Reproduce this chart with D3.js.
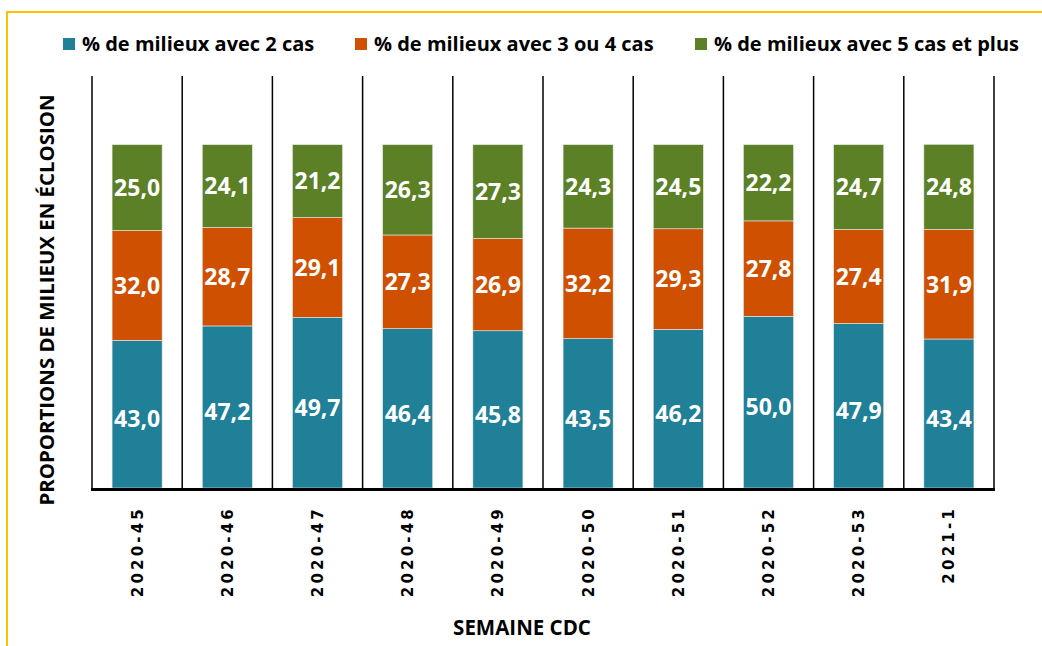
<!DOCTYPE html>
<html><head><meta charset="utf-8">
<script src="https://cdn.jsdelivr.net/npm/d3@7/dist/d3.min.js"></script>
<style>
html,body{margin:0;padding:0;background:#fff;}
svg{display:block;}
</style></head>
<body><svg id="c" width="1042" height="646"></svg>
<script>
const categories = ["2020-45","2020-46","2020-47","2020-48","2020-49","2020-50","2020-51","2020-52","2020-53","2021-1"];
const twoCases = [43.0,47.2,49.7,46.4,45.8,43.5,46.2,50.0,47.9,43.4];
const threeFourCases = [32.0,28.7,29.1,27.3,26.9,32.2,29.3,27.8,27.4,31.9];
const fivePlusCases = [25.0,24.1,21.2,26.3,27.3,24.3,24.5,22.2,24.7,24.8];
const seriesNames = ["% de milieux avec 2 cas","% de milieux avec 3 ou 4 cas","% de milieux avec 5 cas et plus"];
const seriesColors = ["#1F8098","#CF5000","#5B8025"];
const yAxisTitle = "PROPORTIONS DE MILIEUX EN ÉCLOSION";
const xAxisTitle = "SEMAINE CDC";

(function(){
const svg = d3.select("#c");
const FONT = "'Open Sans', sans-serif";

svg.append("rect").attr("x",7).attr("y",12).attr("width",1060).attr("height",660)
  .attr("fill","none").attr("stroke","#FFC000").attr("stroke-width",2);

const pL = 92, pR = 994, pT = 76, pB = 488;
const x = d3.scaleBand().domain(categories).range([pL,pR]).paddingInner(0.445).paddingOuter(0.2225);
const y = d3.scaleLinear().domain([0,120]).range([pB,pT]);

const rows = categories.map((c,i)=>({cat:c, s0:twoCases[i], s1:threeFourCases[i], s2:fivePlusCases[i]}));
const stack = d3.stack().keys(["s0","s1","s2"])(rows);

const step = x.step();
const bounds = d3.range(categories.length+1).map(i => pL + i*step);
svg.append("g").selectAll("line").data(bounds).join("line")
  .attr("x1",d=>d).attr("x2",d=>d).attr("y1",pT).attr("y2",pB)
  .attr("stroke","#000").attr("stroke-width",1.5);

const g = svg.append("g");
stack.forEach((layer,si)=>{
  g.append("g").selectAll("rect").data(layer).join("rect")
    .attr("x",d=>x(d.data.cat)).attr("width",x.bandwidth())
    .attr("y",d=>y(d[1])).attr("height",d=>y(d[0])-y(d[1]))
    .attr("fill",seriesColors[si]).attr("stroke","#e8e8e8").attr("stroke-width",0.6);
  g.append("g").selectAll("text").data(layer).join("text")
    .attr("x",d=>x(d.data.cat)+x.bandwidth()/2)
    .attr("y",d=>(y(d[0])+y(d[1]))/2 + (si===0?5:0))
    .attr("dy","0.36em").attr("text-anchor","middle")
    .attr("fill","#fff").attr("font-family",FONT).attr("font-weight","bold").attr("font-size",23)
    .text(d=>d3.format(".1f")(d[1]-d[0]).replace(".",","));
});

svg.append("line").attr("x1",pL-1).attr("x2",pR+1).attr("y1",pB+1.5).attr("y2",pB+1.5)
  .attr("stroke","#000").attr("stroke-width",3);

svg.append("g").selectAll("text").data(categories).join("text")
  .attr("transform",d=>`translate(${x(d)+x.bandwidth()/2},506) rotate(-90)`)
  .attr("text-anchor","end").attr("dy","0.36em")
  .attr("font-family","'DejaVu Sans', sans-serif").attr("font-weight","bold").attr("font-size",15)
  .attr("letter-spacing","3.2px").attr("fill","#000")
  .text(d=>d);

svg.append("text").attr("transform","translate(47,300) rotate(-90)")
  .attr("text-anchor","middle").attr("dy","0.36em")
  .attr("font-family",FONT).attr("font-weight","bold").attr("font-size",20.4).attr("fill","#000")
  .text(yAxisTitle);
svg.append("text").attr("x",522).attr("y",628).attr("text-anchor","middle").attr("dy","0.36em")
  .attr("font-family",FONT).attr("font-weight","bold").attr("font-size",20.5).attr("fill","#000")
  .text(xAxisTitle);

const legX = [63,355,695];
const leg = svg.append("g").selectAll("g").data(seriesNames).join("g")
  .attr("transform",(d,i)=>`translate(${legX[i]},38)`);
leg.append("rect").attr("width",12).attr("height",12).attr("fill",(d,i)=>seriesColors[i]);
leg.append("text").attr("x",19).attr("y",6).attr("dy","0.36em")
  .attr("font-family",FONT).attr("font-weight","bold").attr("font-size",20).attr("fill","#000")
  .text(d=>d);
})();
</script></body></html>
